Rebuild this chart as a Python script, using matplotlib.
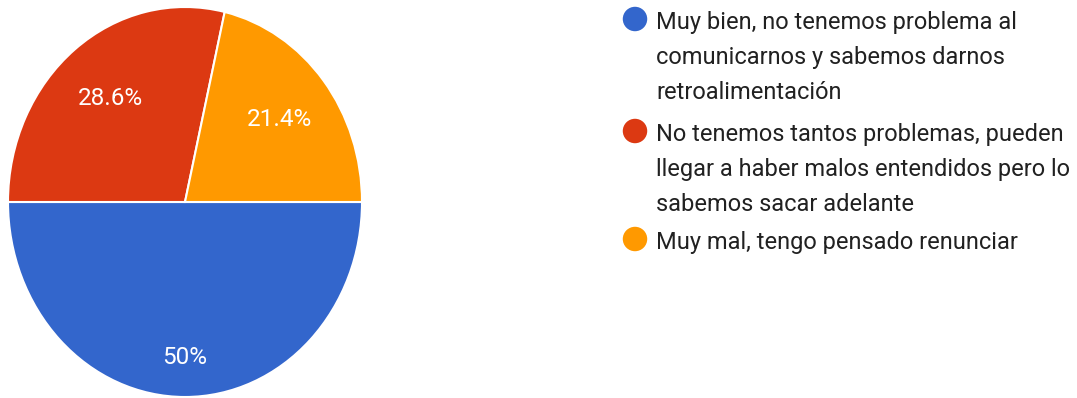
import matplotlib
matplotlib.use("Agg")
import matplotlib.pyplot as plt

plt.rcParams['font.family'] = ['Roboto', 'DejaVu Sans']

# respuestas de la encuesta
etiquetas = [
    "Muy bien, no tenemos problema al\ncomunicarnos y sabemos darnos\nretroalimentación",
    "No tenemos tantos problemas, pueden\nllegar a haber malos entendidos pero lo\nsabemos sacar adelante",
    "Muy mal, tengo pensado renunciar",
]
porcentajes = [50.0, 28.6, 21.4]
colores = ['#3366CC', '#DC3912', '#FF9900']


def fmt_pct(p):
    s = '%.1f' % p
    if s.endswith('.0'):
        s = s[:-2]
    return s + '%'


W, H = 1077, 398
fig = plt.figure(figsize=(W / 100, H / 100), dpi=100)

# pastel (ligeramente estirado en vertical)
ax = fig.add_axes([8 / W, 1 / H, 354 / W, 390 / H])
wedges, textos, pcts = ax.pie(porcentajes, colors=colores, startangle=0,
                              counterclock=False, autopct=fmt_pct,
                              pctdistance=0.68,
                              wedgeprops=dict(edgecolor='white', linewidth=1.5),
                              textprops=dict(color='white', fontsize=17.5))
ax.set_aspect('auto')
ax.set_xlim(-1, 1)
ax.set_ylim(-1, 1)
# la etiqueta de la mitad inferior va mas abajo
pcts[0].set_position((0, -0.8))

# leyenda dibujada a mano, en pixeles
lg = fig.add_axes([0, 0, 1, 1])
lg.set_xlim(0, W)
lg.set_ylim(H, 0)
lg.axis('off')

y_base = [29, 141, 249]
for etiqueta, color, y0 in zip(etiquetas, colores, y_base):
    lg.scatter([635], [y0 - 10], s=310, color=color, edgecolor='none')
    for k, linea in enumerate(etiqueta.split('\n')):
        lg.text(656, y0 + 35 * k, linea, fontsize=17, color='#212121',
                va='baseline', ha='left')

fig.savefig('out.png', dpi=100)
